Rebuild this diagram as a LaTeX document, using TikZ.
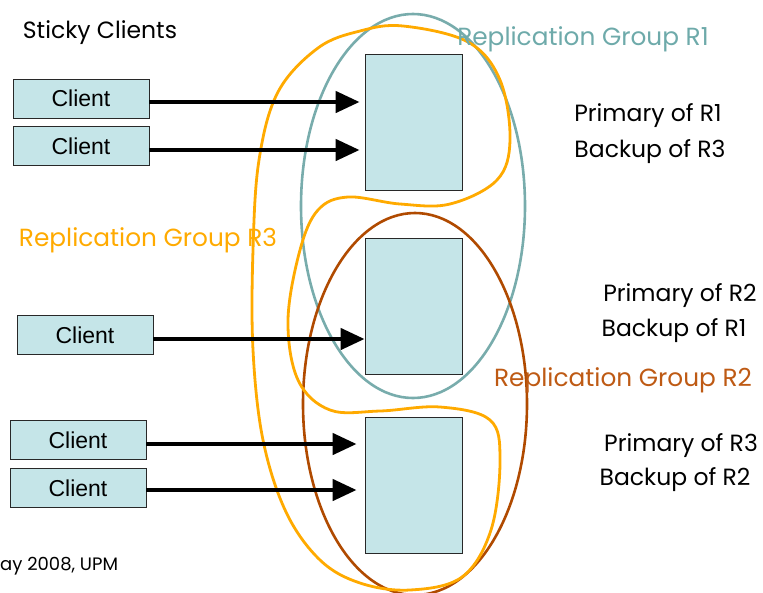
\documentclass[tikz,border=0pt]{standalone}
\usepackage{fontspec}
\setmainfont{Poppins}
\newfontfamily\boxfont{Liberation Sans}
\usetikzlibrary{arrows.meta}

\definecolor{boxfill}{RGB}{197,229,232}
\definecolor{boxline}{RGB}{40,40,40}
\definecolor{grpA}{RGB}{120,172,172}
\definecolor{grpAtext}{RGB}{110,170,170}
\definecolor{grpB}{RGB}{176,74,0}
\definecolor{grpBtext}{RGB}{190,90,20}
\definecolor{grpC}{RGB}{255,170,0}

\tikzset{
  client/.style={draw=boxline, line width=0.8pt, fill=boxfill, minimum width=136pt,
    minimum height=39pt, inner sep=0pt, font=\boxfont\fontsize{23}{26}\selectfont},
  server/.style={draw=boxline, line width=0.8pt, fill=boxfill, minimum width=97pt,
    minimum height=136pt, inner sep=0pt},
  req/.style={line width=4.5pt, -{Triangle[length=24pt,width=21pt]}},
  label/.style={inner sep=0pt, yshift=-3pt, font=\fontsize{23.5}{27}\selectfont},
  grouplabel/.style={inner sep=0pt, yshift=-3pt, font=\fontsize{24.8}{29}\selectfont},
}

\begin{document}
\begin{tikzpicture}[x=1pt,y=-1pt]
\useasboundingbox (0,0) rectangle (763,592);

% server machines
\node[server] (s1) at (413.5,122.5) {};
\node[server] (s2) at (413.5,306) {};
\node[server] (s3) at (413.5,485) {};

% replication groups
\draw[grpA, line width=2.6pt] (413,206) ellipse [x radius=112, y radius=192];
\draw[grpB, line width=2.6pt] (415,404) ellipse [x radius=112, y radius=191];
\draw[grpC, line width=2.8pt] plot[smooth cycle, tension=0.6] coordinates {
  (403,26) (468,42) (500,80) (510,140) (497,180) (450,204) (400,204)
  (348,197) (318,210) (300,250) (288,320) (298,380) (330,410) (380,411)
  (440,407) (490,420) (500,460) (491,530) (462,577) (410,590) (360,583)
  (320,560) (286,512) (263,440) (253,350) (253,250) (259,160) (278,92)
  (318,48) (360,31)};

% clients
\node[client] (c1) at (81,98.5) {Client};
\node[client] (c2) at (81,146) {Client};
\node[client] (c3) at (85,335) {Client};
\node[client] (c4) at (78,440) {Client};
\node[client] (c5) at (78,488) {Client};

% requests
\draw[req] ([yshift=-3.5pt]c1.east) -- ([yshift=-3.5pt,xshift=-5pt]c1.east -| s1.west);
\draw[req] ([yshift=-4pt]c2.east) -- ([yshift=-4pt,xshift=-5pt]c2.east -| s1.west);
\draw[req] ([yshift=-4pt]c3.east) -- ([yshift=-4pt]c3.east -| s2.west);
\draw[req] ([yshift=-4pt]c4.east) -- ([yshift=-4pt,xshift=-8pt]c4.east -| s3.west);
\draw[req] ([yshift=-2pt]c5.east) -- ([yshift=-2pt,xshift=-8pt]c5.east -| s3.west);

% texts
\node[label] (title) at (100,30) {Sticky Clients};
\node[grouplabel, text=grpAtext] (g1) at (583,36) {Replication Group R1};
\node[grouplabel, text=grpC] (g3) at (148,237) {Replication Group R3};
\node[grouplabel, text=grpBtext] (g2) at (623,377) {Replication Group R2};

\node[label] (p1) at (648,113) {Primary of R1};
\node[label] (b1) at (650,149) {Backup of R3};
\node[label] (p2) at (680,293) {Primary of R2};
\node[label] (b2) at (674,328) {Backup of R1};
\node[label] (p3) at (681,443) {Primary of R3};
\node[label] (b3) at (675,477) {Backup of R2};

\node[label, anchor=west, font=\fontsize{18}{21}\selectfont] (foot) at (0,563) {ay 2008, UPM};
\end{tikzpicture}
\end{document}
